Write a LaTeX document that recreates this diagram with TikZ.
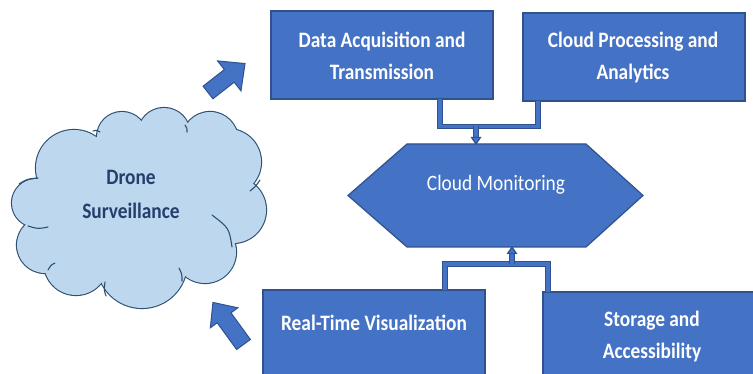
\documentclass[tikz,border=0pt]{standalone}
\usepackage{fontspec}
\setmainfont{Carlito}
\newfontfamily\condfont[FakeStretch=0.88]{Carlito}
\usetikzlibrary{shapes.geometric,arrows.meta}
\definecolor{boxblue}{HTML}{4472C4}
\definecolor{boxedge}{HTML}{2F528F}
\definecolor{cloudfill}{HTML}{BDD7EE}
\definecolor{cloudedge}{HTML}{2F4F72}
\definecolor{cloudtext}{HTML}{243F6E}
\tikzset{
  box/.style={rectangle, draw=boxedge, fill=boxblue, line width=1.2pt, minimum width=222pt, minimum height=88pt, inner sep=0pt},
  boxtext/.style={text=white, align=center, font=\condfont\bfseries\fontsize{22}{32}\selectfont, inner sep=0pt},
  conn/.style={draw=boxedge, double=boxblue, double distance=3.6pt, line width=1.1pt},
  blockarrow/.style={draw=boxedge, fill=boxblue, line width=1pt, line join=miter},
  cloudarc/.style={draw=cloudedge, line width=1.1pt, line cap=round},
}
\newcommand{\puffs}{122/137/25, 164/134/26, 210/140/28, 228/162/33, 233/210/33, 205/252/31, 142/263/45, 76/263/32, 45/245/28, 36/203/24, 74/168/38}
\begin{document}
\begin{tikzpicture}[x=1pt, y=-1pt]
\useasboundingbox (0,0) rectangle (753,374);
\clip (0,0) rectangle (753,374);
\fill[white] (0,0) rectangle (753,374);
% cloud: union of puffs
\foreach \cx/\cy/\r in \puffs { \draw[cloudedge, line width=2.2pt] (\cx,\cy) circle[radius=\r]; }
\foreach \cx/\cy/\r in \puffs { \fill[cloudfill] (\cx,\cy) circle[radius=\r]; }
\fill[cloudfill] (140,205) ellipse[x radius=100, y radius=75];
\draw[cloudarc] (19,184) .. controls (27,179) .. (38,178);
\draw[cloudarc] (28,226) .. controls (38,229) .. (48,227);
\draw[cloudarc] (48,270) .. controls (51,265) .. (55,263);
\draw[cloudarc] (106,296) .. controls (104,290) .. (105,282);
\draw[cloudarc] (182,281) .. controls (182,274) .. (179,268);
\draw[cloudarc] (232,247) .. controls (229,228) .. (212,215);
\draw[cloudarc] (260,180) .. controls (256,186) .. (250,191);
\draw[cloudarc] (100,132) .. controls (97,130) .. (93,131);
\draw[cloudarc] (185,125) .. controls (187,128) .. (187,132);
\node[text=cloudtext, align=center, font=\condfont\bfseries\fontsize{22}{34}\selectfont, inner sep=0pt] (cloudlabel) at (131,194) {Drone\\Surveillance};
% boxes
\node[box] (b1) at (382,55) {};
\node[boxtext] (t1) at (382,56) {Data Acquisition and\\Transmission};
\node[box] (b2) at (634,57) {};
\node[boxtext] (t2) at (633,58) {Cloud Processing and\\Analytics};
\node[box] (b3) at (374,334) {};
\node[boxtext] (t3) at (374,323) {Real-Time Visualization};
\node[box] (b4) at (654,336) {};
\node[boxtext] (t4) at (652,337) {Storage and\\Accessibility};
% hexagon
\path[draw=boxedge, fill=boxblue, line width=1.2pt, line join=miter]
  (348,195.5) -- (407,144) coordinate (hexTL) -- (586,144) coordinate (hexTR) -- (643,195.5) -- (586,247) coordinate (hexBR) -- (407,247) coordinate (hexBL) -- cycle;
\node[text=white, font=\condfont\fontsize{22}{26}\selectfont, inner sep=0pt] (hex) at (496,185) {Cloud Monitoring};
% top connectors
\coordinate (jt) at (476,126.5);
\draw[conn] (440,99) -- (440,126.5) -- (538,126.5) -- (538,101);
\draw[conn] (jt) -- (476,139);
\fill[boxedge] (470.5,137) -- (481.5,137) -- (476,145) -- cycle;
\fill[boxblue] (473,138.2) -- (479,138.2) -- (476,142.5) -- cycle;
% bottom connectors
\coordinate (jb) at (512,264);
\draw[conn] (445,290) -- (445,264) -- (548,264) -- (548,292);
\draw[conn] (jb) -- (512,252);
\fill[boxedge] (506.5,254) -- (517.5,254) -- (512,246) -- cycle;
\fill[boxblue] (509,252.8) -- (515,252.8) -- (512,248.5) -- cycle;
% block arrows
\begin{scope}[shift={(208,92.5)}, rotate=38]
  \draw[blockarrow] (0,-8) -- (27,-8) -- (27,-19) -- (47,0) -- (27,19) -- (27,8) -- (0,8) -- cycle;
\end{scope}
\begin{scope}[shift={(243.5,344.5)}, rotate=126]
  \draw[blockarrow] (0,-8.5) -- (33,-8.5) -- (33,-17) -- (52,0) -- (33,17) -- (33,8.5) -- (0,8.5) -- cycle;
\end{scope}
\end{tikzpicture}
\end{document}
